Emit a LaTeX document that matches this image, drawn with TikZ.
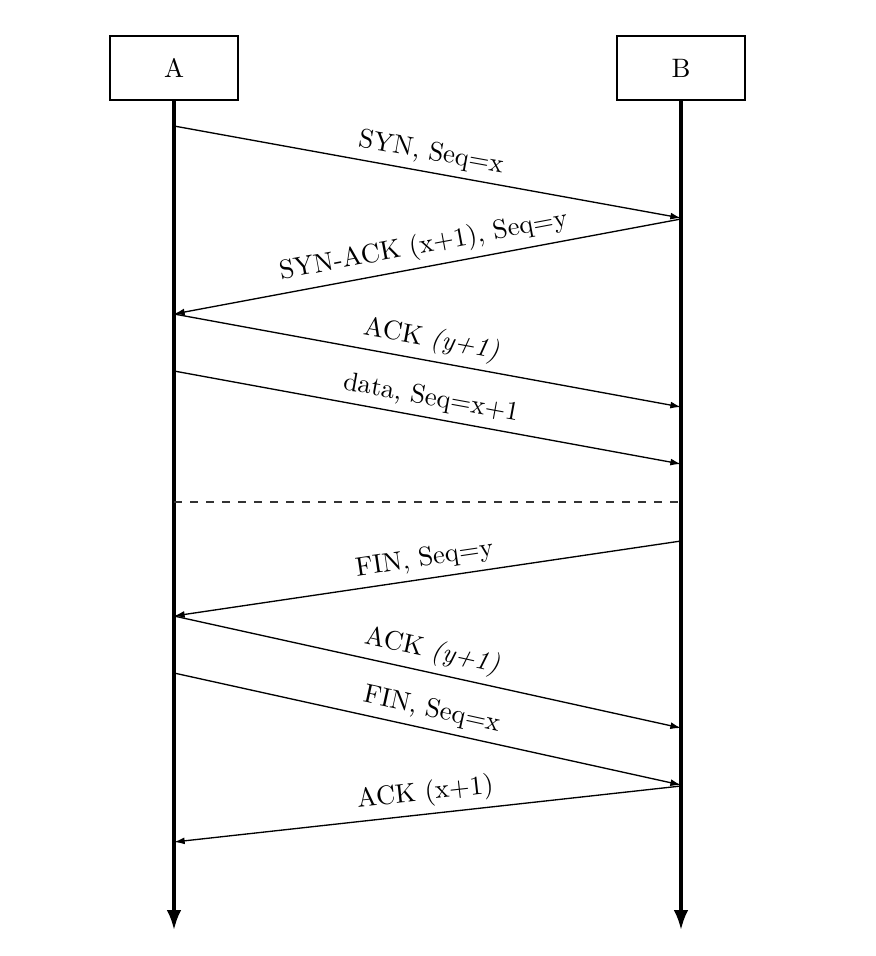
\documentclass[tikz,border=0pt]{standalone}
\usetikzlibrary{arrows.meta}
\begin{document}
\begin{tikzpicture}[x=0.375pt,y=-0.375pt,
  entity/.style={draw,thin,minimum width=128*0.375pt,minimum height=64*0.375pt,inner sep=0pt},
  lifeline/.style={very thick,-{Latex[length=7.5pt,width=5.5pt]}},
  msg/.style={line width=0.5pt,-{Latex[length=4pt,width=2.6pt]}},
  lbl/.style={above,sloped,midway,inner sep=2.5pt},
  sep/.style={dashed,line width=0.4pt,draw=black!80}]
\useasboundingbox (0,0) rectangle (876,956);
\node[entity] (A) at (174,68) {A};
\node[entity] (B) at (681,68) {B};
\coordinate (Aend) at (174,930);
\coordinate (Bend) at (681,930);
\draw[lifeline] (A.south) -- (Aend);
\draw[lifeline] (B.south) -- (Bend);
% message endpoints
\coordinate (a1) at (174,126); \coordinate (b1) at (681,218);
\coordinate (b2) at (681,219); \coordinate (a2) at (174,314);
\coordinate (a3) at (174,314); \coordinate (b3) at (681,407);
\coordinate (a4) at (174,371); \coordinate (b4) at (681,464);
\coordinate (ds) at (174,502); \coordinate (de) at (681,502);
\coordinate (b5) at (681,541); \coordinate (a5) at (174,616);
\coordinate (a6) at (174,616); \coordinate (b6) at (681,728);
\coordinate (a7) at (174,673); \coordinate (b7) at (681,785);
\coordinate (b8) at (681,786); \coordinate (a8) at (174,842);
\draw[msg] (a1) -- node[lbl] {SYN, Seq=x} (b1);
\draw[msg] (b2) -- node[lbl] {SYN-ACK (x+1), Seq=y} (a2);
\draw[msg] (a3) -- node[lbl] {ACK \textit{(y+1)}} (b3);
\draw[msg] (a4) -- node[lbl] {data, Seq=x+1} (b4);
\draw[sep] (ds) -- (de);
\draw[msg] (b5) -- node[lbl] {FIN, Seq=y} (a5);
\draw[msg] (a6) -- node[lbl] {ACK \textit{(y+1)}} (b6);
\draw[msg] (a7) -- node[lbl] {FIN, Seq=x} (b7);
\draw[msg] (b8) -- node[lbl] {ACK (x+1)} (a8);
\end{tikzpicture}
\end{document}
